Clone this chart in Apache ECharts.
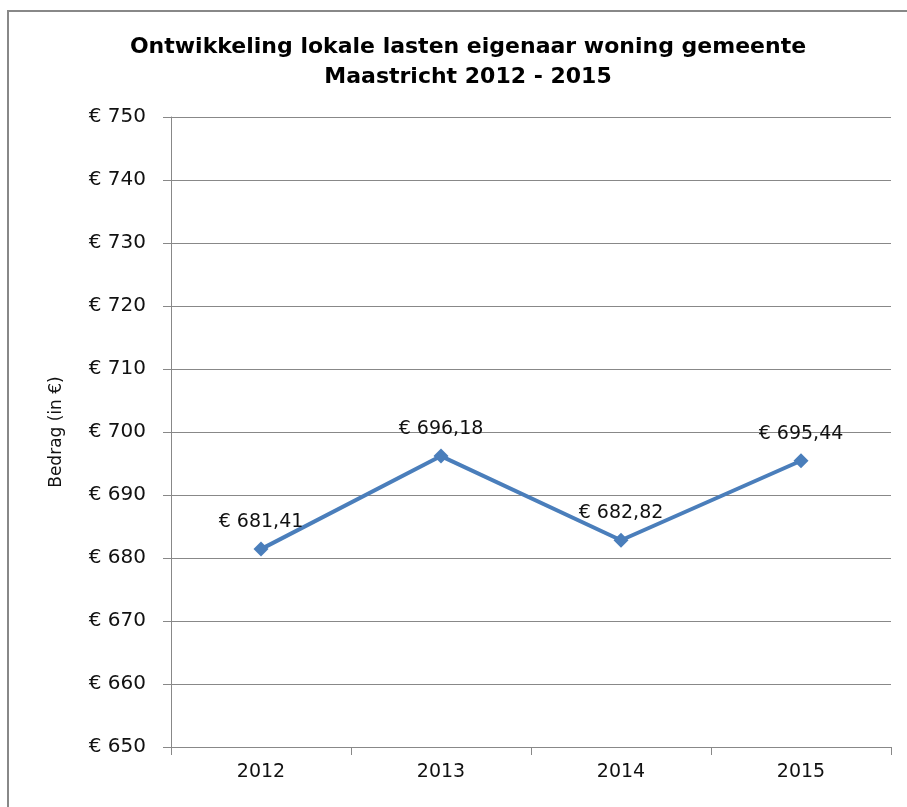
<!DOCTYPE html>
<html>
<head>
<meta charset="utf-8">
<script src="https://cdn.jsdelivr.net/npm/echarts@6/dist/echarts.min.js"></script>
<style>
  html, body { margin: 0; padding: 0; background: #fff; }
  #chart { width: 907px; height: 807px; }
</style>
</head>
<body>
<div id="chart"></div>
<script>
var years = ['2012', '2013', '2014', '2015'];
var amounts = [681.41, 696.18, 682.82, 695.44];
var yMin = 650, yMax = 750, yStep = 10;

var fontFam = '"DejaVu Sans", "Open Sans", sans-serif';

function euro(v, dec) {
    return '\u20ac ' + v.toFixed(dec).replace('.', ',');
}

var myChart = echarts.init(document.getElementById('chart'));
var option = {
    backgroundColor: '#fff',
    animation: false,
    title: {
        text: 'Ontwikkeling lokale lasten eigenaar woning gemeente\nMaastricht 2012 - 2015',
        left: 463,
        top: 27,
        textAlign: 'center',
        textStyle: { fontFamily: fontFam, fontSize: 22, fontWeight: 'bold', color: '#000', lineHeight: 30 }
    },
    graphic: [{
        type: 'rect',
        shape: { x: 8, y: 11, width: 1000, height: 1000 },
        style: { fill: 'none', stroke: '#888', lineWidth: 2 },
        silent: true
    }],
    grid: { left: 171, right: 16, top: 117, bottom: 60, containLabel: false },
    xAxis: {
        type: 'category',
        data: years,
        boundaryGap: true,
        axisLine: { lineStyle: { color: '#888', width: 1 } },
        axisTick: { show: true, length: 8, lineStyle: { color: '#888' } },
        axisLabel: { fontFamily: fontFam, fontSize: 19, color: '#111', margin: 16 },
        splitLine: { show: false }
    },
    yAxis: {
        type: 'value',
        min: yMin,
        max: yMax,
        interval: yStep,
        name: 'Bedrag (in \u20ac)',
        nameLocation: 'middle',
        nameGap: 106,
        nameTextStyle: { fontFamily: fontFam, fontSize: 17, color: '#111' },
        axisLine: { show: true, lineStyle: { color: '#888', width: 1 } },
        axisTick: { show: true, length: 8, lineStyle: { color: '#888' } },
        axisLabel: {
            fontFamily: fontFam, fontSize: 20, color: '#111', margin: 25,
            formatter: function (v) { return euro(v, 0); }
        },
        splitLine: { show: true, lineStyle: { color: '#888', width: 1 } }
    },
    series: [{
        type: 'line',
        data: amounts,
        symbol: 'diamond',
        symbolSize: 15,
        lineStyle: { color: '#4a7ebb', width: 4 },
        itemStyle: { color: '#4a7ebb' },
        label: {
            show: true,
            position: 'top',
            distance: 10,
            fontFamily: fontFam,
            fontSize: 19,
            color: '#111',
            formatter: function (p) { return euro(p.value, 2); }
        }
    }]
};
myChart.setOption(option);
</script>
</body>
</html>
